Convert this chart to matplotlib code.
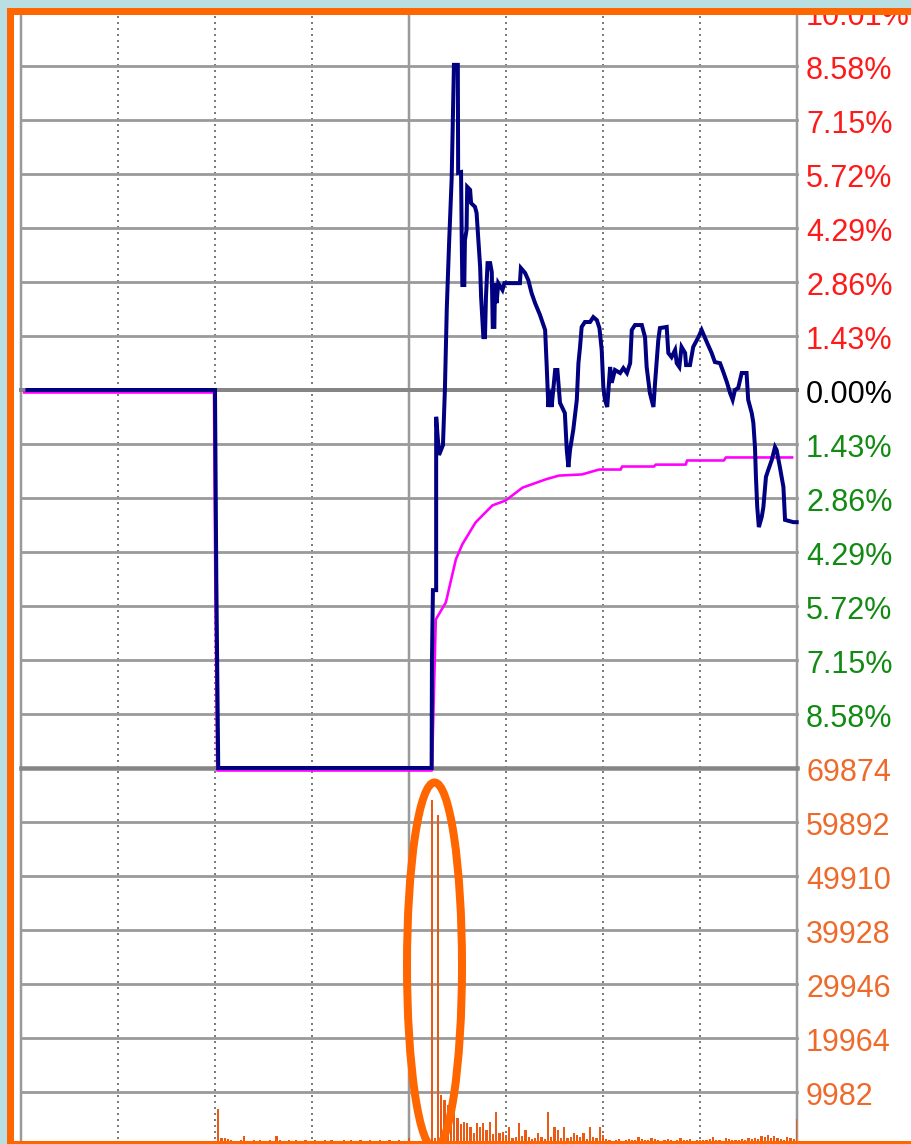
import matplotlib
matplotlib.use('Agg')
import matplotlib.pyplot as plt
from matplotlib import font_manager
from matplotlib.patches import Rectangle, Ellipse
import matplotlib.transforms as mtransforms

# ---------------- data ----------------
# price line: (minute, percent change)
price_points = [
    (2, 0.0), (60, 0.0), (60.4, -4.98), (61, -10.01), (127, -10.01),
    (127.1, -7.15), (127.4, -5.30), (128.4, -5.30), (128.4, -0.71), (129.3, -1.72),
    (130.5, -1.46), (131.1, 0.0), (131.7, 2.20), (132.4, 3.89), (133.2, 5.61),
    (133.9, 8.61), (135.1, 8.61), (135.2, 5.75), (136.1, 5.77), (136.3, 4.05),
    (136.5, 2.78), (137.1, 2.78), (137.3, 3.97), (137.8, 4.24), (138.0, 5.38),
    (138.9, 5.30), (139.2, 4.95), (140.4, 4.85), (140.9, 4.69), (141.2, 4.29),
    (142.0, 3.26), (142.3, 2.46), (143.0, 1.40), (143.5, 1.40), (143.8, 2.46),
    (144.3, 3.36), (145.1, 3.36), (145.6, 3.12), (145.9, 1.67), (146.4, 1.67),
    (146.6, 2.83), (147.1, 2.30), (147.6, 2.83), (148.9, 2.65), (149.5, 2.83),
    (154.3, 2.83), (154.6, 3.23), (155.9, 3.10), (156.9, 2.91), (157.9, 2.57),
    (159.0, 2.30), (160.5, 1.99), (162.1, 1.59), (162.6, 0.61), (163.1, -0.45),
    (163.6, 0.0), (164.1, -0.45), (165.2, 0.53), (165.9, 0.53), (166.7, -0.34),
    (168.2, -0.61), (168.8, -1.59), (169.3, -2.04), (169.8, -1.59), (170.8, -1.06),
    (171.9, -0.26), (172.4, 0.71), (172.9, 1.14), (173.4, 1.67), (174.4, 1.80),
    (176.0, 1.80), (177.0, 1.93), (178.1, 1.85), (178.9, 1.64), (179.6, 1.06),
    (180.1, 0.08), (180.6, -0.26), (181.3, -0.45), (182.2, 0.61), (182.7, 0.19),
    (183.7, 0.53), (185.3, 0.45), (186.3, 0.58), (187.4, 0.45), (188.4, 0.71),
    (188.9, 1.59), (189.9, 1.72), (192.0, 1.72), (193.0, 1.40), (193.5, 0.61),
    (194.5, -0.08), (195.6, -0.45), (196.1, 0.19), (197.1, 1.32), (197.6, 1.64),
    (199.7, 1.67), (200.2, 0.98), (201.2, 0.87), (202.3, 1.06), (202.8, 0.71),
    (203.6, 0.61), (204.3, 1.14), (205.4, 0.98), (205.7, 0.66), (206.9, 0.66),
    (207.9, 1.14), (209.5, 1.40), (210.5, 1.59), (212.1, 1.27), (213.6, 0.98),
    (214.6, 0.74), (216.2, 0.71), (217.2, 0.48), (218.3, 0.21), (219.3, -0.08),
    (220.1, -0.26), (220.8, 0.0), (221.8, 0.05), (222.9, 0.45), (224.4, 0.45),
    (224.9, -0.26), (226.0, -0.61), (226.5, -0.87), (227.0, -1.51), (227.3, -2.30),
    (227.7, -3.10), (228.2, -3.63), (229.1, -3.36), (229.6, -3.10), (230.4, -2.30),
    (231.1, -2.12), (232.2, -1.85), (233.2, -1.51), (233.7, -1.59), (234.7, -2.04),
    (235.8, -2.57), (236.3, -3.44), (238.9, -3.50), (239.9, -3.50),
]

# average price line: (minute, percent change)
avg_points = [
    (1.3, 0.0), (60, 0.0), (60.4, -4.98), (61, -10.01), (127.4, -10.01),
    (128.6, -6.01), (131.7, -5.56), (134.8, -4.42), (136.8, -4.02), (140.9, -3.44),
    (146.1, -2.99), (150.2, -2.86), (155.4, -2.52), (162.6, -2.30), (166.7, -2.20),
    (173.8, -2.17), (179.1, -2.04), (185.8, -2.04), (186.2, -1.96), (196.1, -1.96),
    (196.6, -1.91), (205.9, -1.91), (206.3, -1.80), (217.7, -1.80), (218.3, -1.72),
    (238.8, -1.72),
]

# per-minute volume, minutes 0..240
volume = [
    0, 0, 0, 0, 0, 0, 0, 0, 0, 0,
    0, 0, 0, 0, 0, 0, 0, 0, 0, 0,
    0, 0, 0, 0, 0, 0, 0, 0, 0, 0,
    0, 0, 0, 0, 0, 0, 0, 0, 0, 0,
    0, 0, 0, 0, 0, 0, 0, 0, 0, 0,
    0, 0, 0, 0, 0, 0, 0, 0, 0, 0,
    0, 6790, 1480, 1480, 1300, 1050, 950, 1000, 1100, 1900,
    1000, 950, 1050, 1000, 1100, 950, 1000, 1050, 1000, 1900,
    1050, 1000, 950, 1100, 1000, 1050, 950, 1000, 1100, 1000,
    950, 1050, 1000, 1000, 1100, 950, 1050, 1000, 950, 1000,
    1050, 1000, 1100, 950, 1000, 1050, 1000, 950, 1100, 1000,
    1000, 1050, 950, 1000, 1100, 1000, 950, 1050, 1000, 1000,
    1500, 900, 950, 900, 1000, 900, 950, 63960, 1500, 61186,
    9430, 8500, 7500, 6800, 6040, 5120, 4000, 4500, 4190, 3570,
    2400, 4250, 3570, 4190, 2960, 4500, 2200, 6340, 2340, 2650,
    2030, 3570, 1500, 1720, 4190, 1800, 2960, 1720, 1300, 1420,
    2340, 1720, 1300, 6340, 1720, 3570, 2960, 1420, 3570, 1420,
    1720, 2340, 2030, 1720, 2340, 1300, 3570, 1720, 1420, 3570,
    2030, 1230, 1100, 1000, 1150, 1230, 1000, 1100, 1300, 1100,
    1200, 1600, 1300, 1150, 1100, 1500, 1300, 1200, 1000, 1100,
    1230, 1100, 1000, 1150, 1500, 1200, 1100, 1300, 1000, 1100,
    1200, 1050, 1100, 1300, 1700, 1200, 1100, 1000, 1500, 1300,
    1200, 1100, 1150, 1300, 1200, 1400, 1300, 1500, 1300, 1850,
    1600, 2030, 1500, 1850, 1400, 1300, 1200, 1720, 1400, 1300,
    5000,
]

pct_levels = [10.01, 8.58, 7.15, 5.72, 4.29, 2.86, 1.43, 0.0,
              -1.43, -2.86, -4.29, -5.72, -7.15, -8.58]
pct_labels = ["10.01%", "8.58%", "7.15%", "5.72%", "4.29%", "2.86%", "1.43%", "0.00%",
              "1.43%", "2.86%", "4.29%", "5.72%", "7.15%", "8.58%"]
vol_levels = [69874, 59892, 49910, 39928, 29946, 19964, 9982]
vol_labels = ["69874", "59892", "49910", "39928", "29946", "19964", "9982"]

solid_minutes = [0, 120, 240]
dotted_minutes = [30, 60, 90, 150, 180, 210]

# ---------------- styling ----------------
W, H = 911, 1144
PX = 0.72  # points per pixel at dpi 100
C_BG = '#b9dfe3'
C_FRAME = '#ff6600'
C_GRID = '#9a9a9a'
C_GRID_DARK = '#858585'
C_PRICE = '#000080'
C_AVG = '#ff00ff'
C_VOL = '#e95a14'
C_UP = '#ff1a1a'
C_DN = '#138a13'
C_VOLTXT = '#ee6a2a'


def pick_font():
    for name in ['Liberation Sans Narrow', 'DejaVu Sans Condensed', 'Liberation Sans']:
        try:
            font_manager.findfont(font_manager.FontProperties(family=name),
                                  fallback_to_default=False)
            return name
        except Exception:
            pass
    return 'DejaVu Sans'


FONT = pick_font()
FSIZE = 25.5 if FONT == 'Liberation Sans Narrow' else 22


def fx(x):
    return x / W


def fy(y):
    return 1 - y / H


def frect(x0, y0, x1, y1, color, z):
    fig.add_artist(Rectangle((fx(x0), fy(y1)), fx(x1) - fx(x0), fy(y0) - fy(y1),
                             transform=fig.transFigure, facecolor=color,
                             edgecolor='none', zorder=z))


fig = plt.figure(figsize=(W / 100, H / 100), dpi=100)
fig.patch.set_facecolor(C_BG)

# white panel behind the chart
frect(13, 14, 911, 1141, 'white', -1)

L, R = 21, 797
ax_v = fig.add_axes([fx(L), fy(1146), (R - L) / W, (1146 - 768) / H])
ax_p = fig.add_axes([fx(L), fy(768), (R - L) / W, (768 - 12) / H])
ax_v.set_zorder(0.5)
ax_p.set_zorder(1)

for ax in (ax_p, ax_v):
    ax.set_xlim(0, 240)
    ax.set_facecolor('none')
    ax.set_axis_off()
    for m in solid_minutes:
        ax.axvline(m, color=C_GRID, lw=2.5 * PX, zorder=1, clip_on=False)
    for m in dotted_minutes:
        ax.axvline(m, color='#7d7d7d', lw=2.0 * PX, ls=(0, (1, 2.0)), zorder=1,
                   clip_on=False)

ax_p.set_ylim(-10.01, 10.01)
ax_v.set_ylim(0, 69874)

# horizontal grid
for lvl in pct_levels:
    if lvl == 0.0:
        ax_p.axhline(lvl, color=C_GRID_DARK, lw=4 * PX, zorder=1, clip_on=False)
    else:
        ax_p.axhline(lvl, color=C_GRID, lw=2.8 * PX, zorder=1, clip_on=False)
ax_p.axhline(-10.01, color=C_GRID_DARK, lw=4.5 * PX, zorder=1, clip_on=False)
for lvl in vol_levels[1:]:
    ax_v.axhline(lvl, color=C_GRID, lw=2.8 * PX, zorder=1, clip_on=False)

# volume bars
ax_v.bar(range(len(volume)), volume, width=0.7, color=C_VOL, linewidth=0, zorder=2)

# price & average lines
pt = [p[0] for p in price_points]
pv = [p[1] for p in price_points]
at = [p[0] for p in avg_points]
av = [p[1] for p in avg_points]
avg_tr = mtransforms.offset_copy(ax_p.transData, fig=fig, x=-1.0, y=-2.5, units='dots')
ax_p.plot(at, av, color=C_AVG, lw=2.6 * PX, zorder=3, clip_on=False, transform=avg_tr)
ax_p.plot(pt, pv, color=C_PRICE, lw=4.0 * PX, zorder=4, clip_on=False,
          solid_joinstyle='miter')

# right labels
lab_x = (806 - L) / (R - L)
tr_p = mtransforms.offset_copy(ax_p.get_yaxis_transform(), fig=fig, x=0, y=-13, units='dots')
for lvl, lab in zip(pct_levels, pct_labels):
    col = C_UP if lvl > 0 else (C_DN if lvl < 0 else 'black')
    ax_p.text(lab_x, lvl, lab, transform=tr_p, color=col, fontsize=FSIZE,
              family=FONT, ha='left', va='baseline', clip_on=False)
tr_v = mtransforms.offset_copy(ax_v.get_yaxis_transform(), fig=fig, x=0, y=-13, units='dots')
for lvl, lab in zip(vol_levels, vol_labels):
    ax_v.text(lab_x, lvl, lab, transform=tr_v, color=C_VOLTXT, fontsize=FSIZE,
              family=FONT, ha='left', va='baseline', clip_on=False)

# background strips outside the frame (hide anything drawn there)
frect(0, 0, 911, 8, C_BG, 5)
frect(0, 0, 7, 1144, C_BG, 5)
# orange frame
frect(7, 8, 911, 14.5, C_FRAME, 6)
frect(7, 8, 13.5, 1144, C_FRAME, 6)
frect(7, 1141, 911, 1144, C_FRAME, 6)

# highlight ellipse
fig.add_artist(Ellipse((fx(434.5), fy(965.5)), 55 / W, 366 / H, transform=fig.transFigure,
                       fill=False, edgecolor=C_FRAME, lw=8 * PX, zorder=7))

fig.savefig('out.png', dpi=100, facecolor=fig.get_facecolor())
